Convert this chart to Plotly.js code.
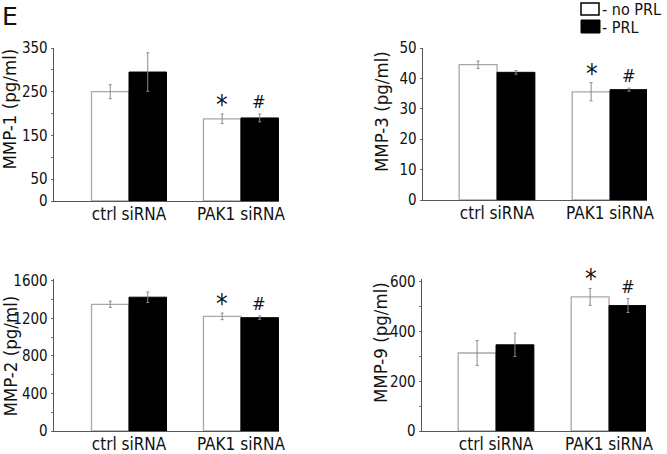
<!DOCTYPE html>
<html>
<head>
<meta charset="utf-8">
<script src="https://cdn.plot.ly/plotly-3.0.1.min.js"></script>
<style>html,body{margin:0;padding:0;background:#fff}#chart{width:667px;height:454px}</style>
</head>
<body>
<div id="chart"></div>
<script>
const categories = ["ctrl siRNA", "PAK1 siRNA"];
const seriesNames = ["no PRL", "PRL"];

const mmp1NoPRL = [250, 188];
const mmp1NoPRLErr = [16, 11];
const mmp1PRL = [295, 190];
const mmp1PRLErr = [44, 9];

const mmp3NoPRL = [44.5, 35.6];
const mmp3NoPRLErr = [1.2, 3];
const mmp3PRL = [42, 36.3];
const mmp3PRLErr = [0.6, 0.5];

const mmp2NoPRL = [1350, 1222];
const mmp2NoPRLErr = [33, 35];
const mmp2PRL = [1426, 1208];
const mmp2PRLErr = [55, 18];

const mmp9NoPRL = [314, 540];
const mmp9NoPRLErr = [50, 34];
const mmp9PRL = [347, 505];
const mmp9PRLErr = [47, 28];

const yTitles = ["MMP-1 (pg/ml)", "MMP-3 (pg/ml)", "MMP-2 (pg/ml)", "MMP-9 (pg/ml)"];
const sigMarks = ["*", "#"];

const FONT = "DejaVu Sans Condensed, DejaVu Sans, sans-serif";
const W = 667, H = 454;

function px(x){ return x / W; }
function py(y){ return 1 - y / H; }

const panels = [
  {no: mmp1NoPRL, noE: mmp1NoPRLErr, p: mmp1PRL, pE: mmp1PRLErr, x0: 54, x1: 279, y0: 48, y1: 201, range: [0, 350], tickvals: [0, 50, 150, 250, 350], minor: 100, xr: [-0.67, 1.34], sigIdx: 1, tx: 9.5, ty: 109},
  {no: mmp3NoPRL, noE: mmp3NoPRLErr, p: mmp3PRL, pE: mmp3PRLErr, x0: 423, x1: 647, y0: 48, y1: 200, range: [0, 50], tickvals: [0, 10, 20, 30, 40, 50], xr: [-0.655, 1.327], sigIdx: 1, tx: 381, ty: 112},
  {no: mmp2NoPRL, noE: mmp2NoPRLErr, p: mmp2PRL, pE: mmp2PRLErr, x0: 54, x1: 279, y0: 279, y1: 431, range: [0, 1620], tickvals: [0, 400, 800, 1200, 1600], minor: 200, xr: [-0.67, 1.34], sigIdx: 1, tx: 9.5, ty: 356},
  {no: mmp9NoPRL, noE: mmp9NoPRLErr, p: mmp9PRL, pE: mmp9PRLErr, x0: 422, x1: 646, y0: 279, y1: 431, range: [0, 612], tickvals: [0, 200, 400, 600], minor: 100, xr: [-0.655, 1.327], sigIdx: 1, tx: 380, ty: 343}
];

const data = [];
const layout = {
  width: W, height: H,
  margin: {l: 0, r: 0, t: 0, b: 0},
  paper_bgcolor: "#fff", plot_bgcolor: "#fff",
  showlegend: false,
  barmode: "group", bargap: 0.33, bargroupgap: 0,
  font: {family: FONT, color: "#111", size: 15},
  annotations: [], shapes: []
};

panels.forEach((pn, i) => {
  const n = i + 1;
  const xa = n === 1 ? "x" : "x" + n;
  const ya = n === 1 ? "y" : "y" + n;
  data.push({
    type: "bar", name: seriesNames[0], x: categories, y: pn.no, xaxis: xa, yaxis: ya,
    marker: {color: "#fff", line: {color: "#a8a8a8", width: 1.3}},
    error_y: {type: "data", array: pn.noE, visible: true, color: "#8a8a8a", thickness: 1, width: 1.5}
  });
  data.push({
    type: "bar", name: seriesNames[1], x: categories, y: pn.p, xaxis: xa, yaxis: ya,
    marker: {color: "#000", line: {color: "#000", width: 1}},
    error_y: {type: "data", array: pn.pE, visible: true, color: "#8a8a8a", thickness: 1, width: 1.5}
  });
  const xk = n === 1 ? "xaxis" : "xaxis" + n;
  const yk = n === 1 ? "yaxis" : "yaxis" + n;
  layout[xk] = {
    domain: [px(pn.x0), px(pn.x1)], anchor: ya, type: "category",
    range: pn.xr, showline: true, linecolor: "#555", linewidth: 1.3,
    ticks: "", showgrid: false, zeroline: false, ticklabelstandoff: -3,
    tickfont: {size: 17, family: FONT, color: "#111"}, fixedrange: true
  };
  const yax = {
    domain: [py(pn.y1), py(pn.y0)], anchor: xa,
    range: pn.range, tickvals: pn.tickvals, showline: true, linecolor: "#555", linewidth: 1.3,
    ticks: "outside", ticklen: 2, tickcolor: "#666", showgrid: false, zeroline: false,
    tickfont: {size: 15, family: FONT, color: "#111"},
    fixedrange: true
  };
  if (pn.minor) {
    yax.minor = {tick0: 0, dtick: pn.minor, ticks: "outside", ticklen: 2, tickcolor: "#777", showgrid: false};
  }
  layout[yk] = yax;
  // y-axis title
  layout.annotations.push({
    xref: "paper", yref: "paper", x: px(pn.tx), y: py(pn.ty), xanchor: "center", yanchor: "middle",
    textangle: -90, text: yTitles[i], showarrow: false, font: {size: 18.5, family: FONT, color: "#111"}
  });
  // significance marks above PAK1 siRNA bars
  const cat = categories[pn.sigIdx];
  layout.annotations.push({
    xref: xa, yref: ya, x: cat, xshift: -18.5, y: pn.no[pn.sigIdx] + pn.noE[pn.sigIdx],
    yshift: -8, yanchor: "bottom", text: sigMarks[0], showarrow: false, font: {size: 26, family: FONT, color: "#111"}
  });
  layout.annotations.push({
    xref: xa, yref: ya, x: cat, xshift: 18.5, y: pn.p[pn.sigIdx] + pn.pE[pn.sigIdx],
    yshift: 0, yanchor: "bottom", text: sigMarks[1], showarrow: false, font: {size: 18, family: FONT, color: "#111"}
  });
});

// panel letter
layout.annotations.push({
  xref: "paper", yref: "paper", x: 0, y: 1, xanchor: "left", yanchor: "top",
  text: "E", showarrow: false, font: {size: 25, family: "DejaVu Sans, sans-serif", color: "#111"}
});

// legend
layout.shapes.push({type: "rect", xref: "paper", yref: "paper",
  x0: px(581), x1: px(599), y0: py(15), y1: py(3), line: {color: "#000", width: 1.5}, fillcolor: "#fff"});
layout.shapes.push({type: "rect", xref: "paper", yref: "paper",
  x0: px(581), x1: px(600), y0: py(33), y1: py(20), line: {color: "#000", width: 1}, fillcolor: "#000"});
layout.annotations.push({xref: "paper", yref: "paper", x: px(600), y: py(9), xanchor: "left", yanchor: "middle",
  text: "- " + seriesNames[0], showarrow: false, font: {size: 16, family: FONT, color: "#111"}});
layout.annotations.push({xref: "paper", yref: "paper", x: px(600), y: py(27.5), xanchor: "left", yanchor: "middle",
  text: "- " + seriesNames[1], showarrow: false, font: {size: 16, family: FONT, color: "#111"}});

Plotly.newPlot("chart", data, layout, {displayModeBar: false, staticPlot: true});
</script>
</body>
</html>
